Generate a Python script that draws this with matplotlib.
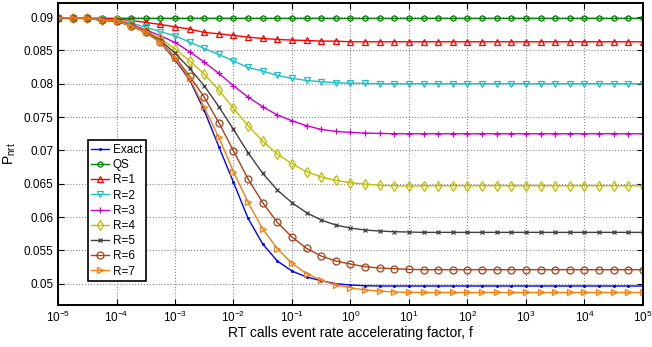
import numpy as np
import matplotlib
matplotlib.use("Agg")
import matplotlib.pyplot as plt

plt.rcParams['font.family'] = ['Liberation Sans', 'DejaVu Sans']
plt.rcParams['mathtext.fontset'] = 'custom'
plt.rcParams['mathtext.rm'] = 'Liberation Sans'
plt.rcParams['mathtext.it'] = 'Liberation Sans:italic'
plt.rcParams['mathtext.default'] = 'regular'

# accelerating factor f: 4 points per decade, 1e-5 .. 1e5
log_f = [-5 + k / 4 for k in range(41)]

# values (k = 0..40)
qs = [0.0899] * 41

r1 = [0.0899, 0.0899, 0.0898, 0.0898, 0.0897, 0.0895, 0.0892, 0.0889, 0.08855,
      0.0882, 0.0877, 0.0875, 0.08725, 0.0870, 0.0868, 0.08665, 0.08655, 0.0865,
      0.0864, 0.0864, 0.0863] + [0.0863] * 20

r2 = [0.0899, 0.0899, 0.0898, 0.0897, 0.0895, 0.0891, 0.0885, 0.0878, 0.0872,
      0.08625, 0.0853, 0.0844, 0.0834, 0.08245, 0.0819, 0.08125, 0.0808, 0.0805,
      0.0803, 0.08015, 0.0801, 0.08005] + [0.0800] * 19

r3 = [0.0899, 0.0899, 0.0898, 0.08965, 0.0895, 0.0889, 0.0881, 0.0872, 0.0862,
      0.0848, 0.08325, 0.08155, 0.0797, 0.0780, 0.07655, 0.0753, 0.07445, 0.0737,
      0.07315, 0.07285, 0.0727, 0.0726, 0.07255, 0.0725] + [0.0725] * 17

r4 = [0.0899, 0.0899, 0.0898, 0.08960, 0.0895, 0.0888, 0.0879, 0.0868, 0.0852,
      0.08345, 0.08145, 0.07905, 0.0763, 0.0737, 0.0714, 0.06945, 0.0680, 0.0668,
      0.0660, 0.0655, 0.06515, 0.06495, 0.06475, 0.0647, 0.06465] + [0.0647] * 16

r5 = [0.0899, 0.0899, 0.0898, 0.08955, 0.0894, 0.0887, 0.0878, 0.0865, 0.0846,
      0.0823, 0.0797, 0.07655, 0.07315, 0.06965, 0.06655, 0.06405, 0.06215, 0.06065,
      0.05955, 0.0588, 0.05835, 0.05805, 0.0579, 0.0578, 0.05775] + [0.0577] * 16

r6 = [0.0899, 0.0899, 0.0898, 0.08955, 0.0894, 0.0887, 0.0877, 0.0863, 0.0840,
      0.08115, 0.0780, 0.07415, 0.06995, 0.0657, 0.06215, 0.0592, 0.0570, 0.0553,
      0.05415, 0.0534, 0.05295, 0.05255, 0.05235, 0.05225, 0.05215] + [0.0521] * 16

r7 = [0.0899, 0.0899, 0.0898, 0.08955, 0.0894, 0.0887, 0.0877, 0.0862, 0.0838,
      0.0808, 0.07645, 0.07195, 0.0668, 0.0622, 0.0582, 0.05525, 0.05305, 0.0515,
      0.0505, 0.0498, 0.0494, 0.04905, 0.0489, 0.04875, 0.0487] + [0.04868] * 16

exact = [0.0899, 0.0899, 0.0898, 0.08955, 0.0894, 0.0887, 0.0877, 0.0862, 0.0836,
         0.0806, 0.0760, 0.07055, 0.0652, 0.0598, 0.05595, 0.0534, 0.0519, 0.0510,
         0.05045, 0.0500, 0.0498, 0.04970] + [0.04965] * 19

ytick_vals = [0.05, 0.055, 0.06, 0.065, 0.07, 0.075, 0.08, 0.085, 0.09]
ytick_labels = ['0.05', '0.055', '0.06', '0.065', '0.07', '0.075', '0.08', '0.085', '0.09']

f = 10.0 ** np.array(log_f)

fig = plt.figure(figsize=(6.52, 3.47), dpi=100)
ax = fig.add_axes([0.089, 0.121, 0.897, 0.870])

series = [
    ('Exact', exact, '#0000ff', '.', 2.5, 'full'),
    ('QS', qs, '#008000', 'h', 4, 'none'),
    ('R=1', r1, '#ff0000', '^', 5, 'none'),
    ('R=2', r2, '#1fbfc8', 'v', 5, 'none'),
    ('R=3', r3, '#cc00cc', '+', 5, 'full'),
    ('R=4', r4, '#bfbf00', 'd', 5, 'none'),
    ('R=5', r5, '#404040', 'x', 3.5, 'full'),
    ('R=6', r6, '#a8401a', 'o', 5, 'none'),
    ('R=7', r7, '#f08010', '>', 5, 'none'),
]

for name, vals, col, mk, ms, fill in series:
    ax.plot(f, vals, color=col, lw=1.0, marker=mk, ms=ms, mew=0.9,
            mfc=(col if fill == 'full' else 'none'), mec=col, label=name)

ax.set_xscale('log')
ax.set_xlim(1e-5, 1e5)
ax.set_ylim(0.0468, 0.0921)
ax.set_xticks(10.0 ** np.arange(-5, 6))
ax.set_yticks(ytick_vals)
ax.set_yticklabels(ytick_labels)

ax.grid(True, which='major', axis='both', linestyle=':', color='#888888', lw=0.8)
ax.grid(True, which='minor', axis='x', linestyle=':', color='#bbbbbb', lw=0.8)
ax.tick_params(which='both', direction='in', top=True, right=True, labelsize=8.5)
ax.tick_params(which='major', length=4)
ax.tick_params(which='minor', length=2)
for sp in ax.spines.values():
    sp.set_linewidth(1.4)

ax.set_xlabel('RT calls event rate accelerating factor, f', fontsize=10, labelpad=1)
ax.set_ylabel('P$_{nrt}$', fontsize=10, labelpad=4)

leg = ax.legend(loc='upper left', bbox_to_anchor=(0.051, 0.545), fontsize=8.5,
                frameon=True, fancybox=False, edgecolor='black', framealpha=1,
                handlelength=1.5, handletextpad=0.3, labelspacing=0.27,
                borderpad=0.3, borderaxespad=0)
leg.get_frame().set_linewidth(1.2)

fig.savefig('out.png', dpi=100)
